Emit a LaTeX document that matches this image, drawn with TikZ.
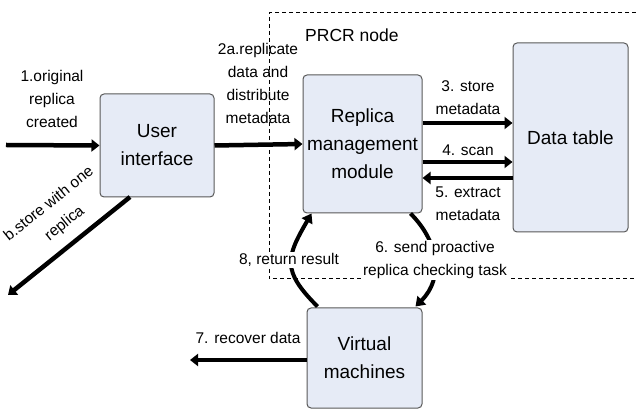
\documentclass[tikz,border=0pt]{standalone}
\usepackage{fontspec}
\setmainfont{Liberation Sans}
\usetikzlibrary{arrows.meta,positioning}

\begin{document}
\begin{tikzpicture}[x=1pt, y=1pt,
  box/.style={draw=black!65, rounded corners=4pt, fill={rgb,255:red,230;green,235;blue,246}, line width=1pt,
              align=center, font=\fontsize{19}{28}\selectfont},
  lbl/.style={align=center, font=\fontsize{15.5}{23}\selectfont, inner sep=1pt},
  flow/.style={line width=4.5pt, -{Triangle[length=8pt,width=12pt]}},
  bent/.style={line width=4pt, -{Triangle[length=9pt,width=12pt]}}]

  \useasboundingbox (0,0) rectangle (636,409);

  % --- boxes ---
  \node[box, minimum width=114pt, minimum height=103pt] (ui)  at (157,263.5) {User\\interface};
  \node[box, minimum width=119pt, minimum height=138pt] (rmm) at (362.5,265) {Replica\\management\\module};
  \node[box, minimum width=115pt, minimum height=189pt] (dt)  at (570.5,271.5) {Data table};
  \node[box, minimum width=115pt, minimum height=100pt] (vm)  at (364.5,51) {Virtual\\machines};

  % --- free ends ---
  \coordinate (src)  at (6,264);
  \coordinate (sto)  at (8,114);
  \coordinate (rec)  at (190,49);
  \coordinate (uibl) at (130,212);

  % --- PRCR node region ---
  \draw[dashed, line width=1pt, dash pattern=on 4pt off 3pt] (636,396) -- (269,396) -- (269,130) -- (636,130);
  \node[lbl, anchor=west, font=\fontsize{17.5}{21}\selectfont] (prcr) at (304,374) {PRCR node};

  % --- flows ---
  \draw[flow] (src) -- (ui.west);
  \draw[flow] (ui.east) -- (rmm.west);
  \draw[flow] (uibl) -- (sto);
  \draw[flow] (rmm.east |- 0,286) -- (dt.west |- 0,286);
  \draw[flow] (rmm.east |- 0,247) -- (dt.west |- 0,247);
  \draw[flow] (dt.west |- 0,231) -- (rmm.east |- 0,231);
  \draw[flow] (vm.west |- rec) -- (rec);
  \draw[bent] ([xshift=-12pt]rmm.south east) to[out=-45, in=45, looseness=1.1] ([xshift=-7pt, yshift=1pt]vm.north east);
  \draw[bent] ([xshift=11pt, yshift=1pt]vm.north west) to[out=135, in=-120, looseness=1.4] ([xshift=9pt]rmm.south west);

  % --- labels ---
  \node[lbl] (l1)  at (52,310) {1.original\\replica\\created};
  \node[lbl] (l2a) at (258,325.5) {2a.replicate\\data and\\distribute\\metadata};
  \node[lbl, rotate=38.7, font=\fontsize{15.5}{25}\selectfont] (l2b) at (57,195) {b.store with one\\replica};
  \node[lbl] (l3)  at (468,311.5) {3. store\\metadata};
  \node[lbl] (l4)  at (468,259) {4. scan};
  \node[lbl] (l5)  at (468,205) {5. extract\\metadata};
  \node[lbl, fill=white] (l6) at (435,149) {6. send proactive\\replica checking task};
  \node[lbl, fill=white] (l8) at (289,149) {8, return result};
  \node[lbl] (l7)  at (248,71) {7. recover data};
\end{tikzpicture}
\end{document}
